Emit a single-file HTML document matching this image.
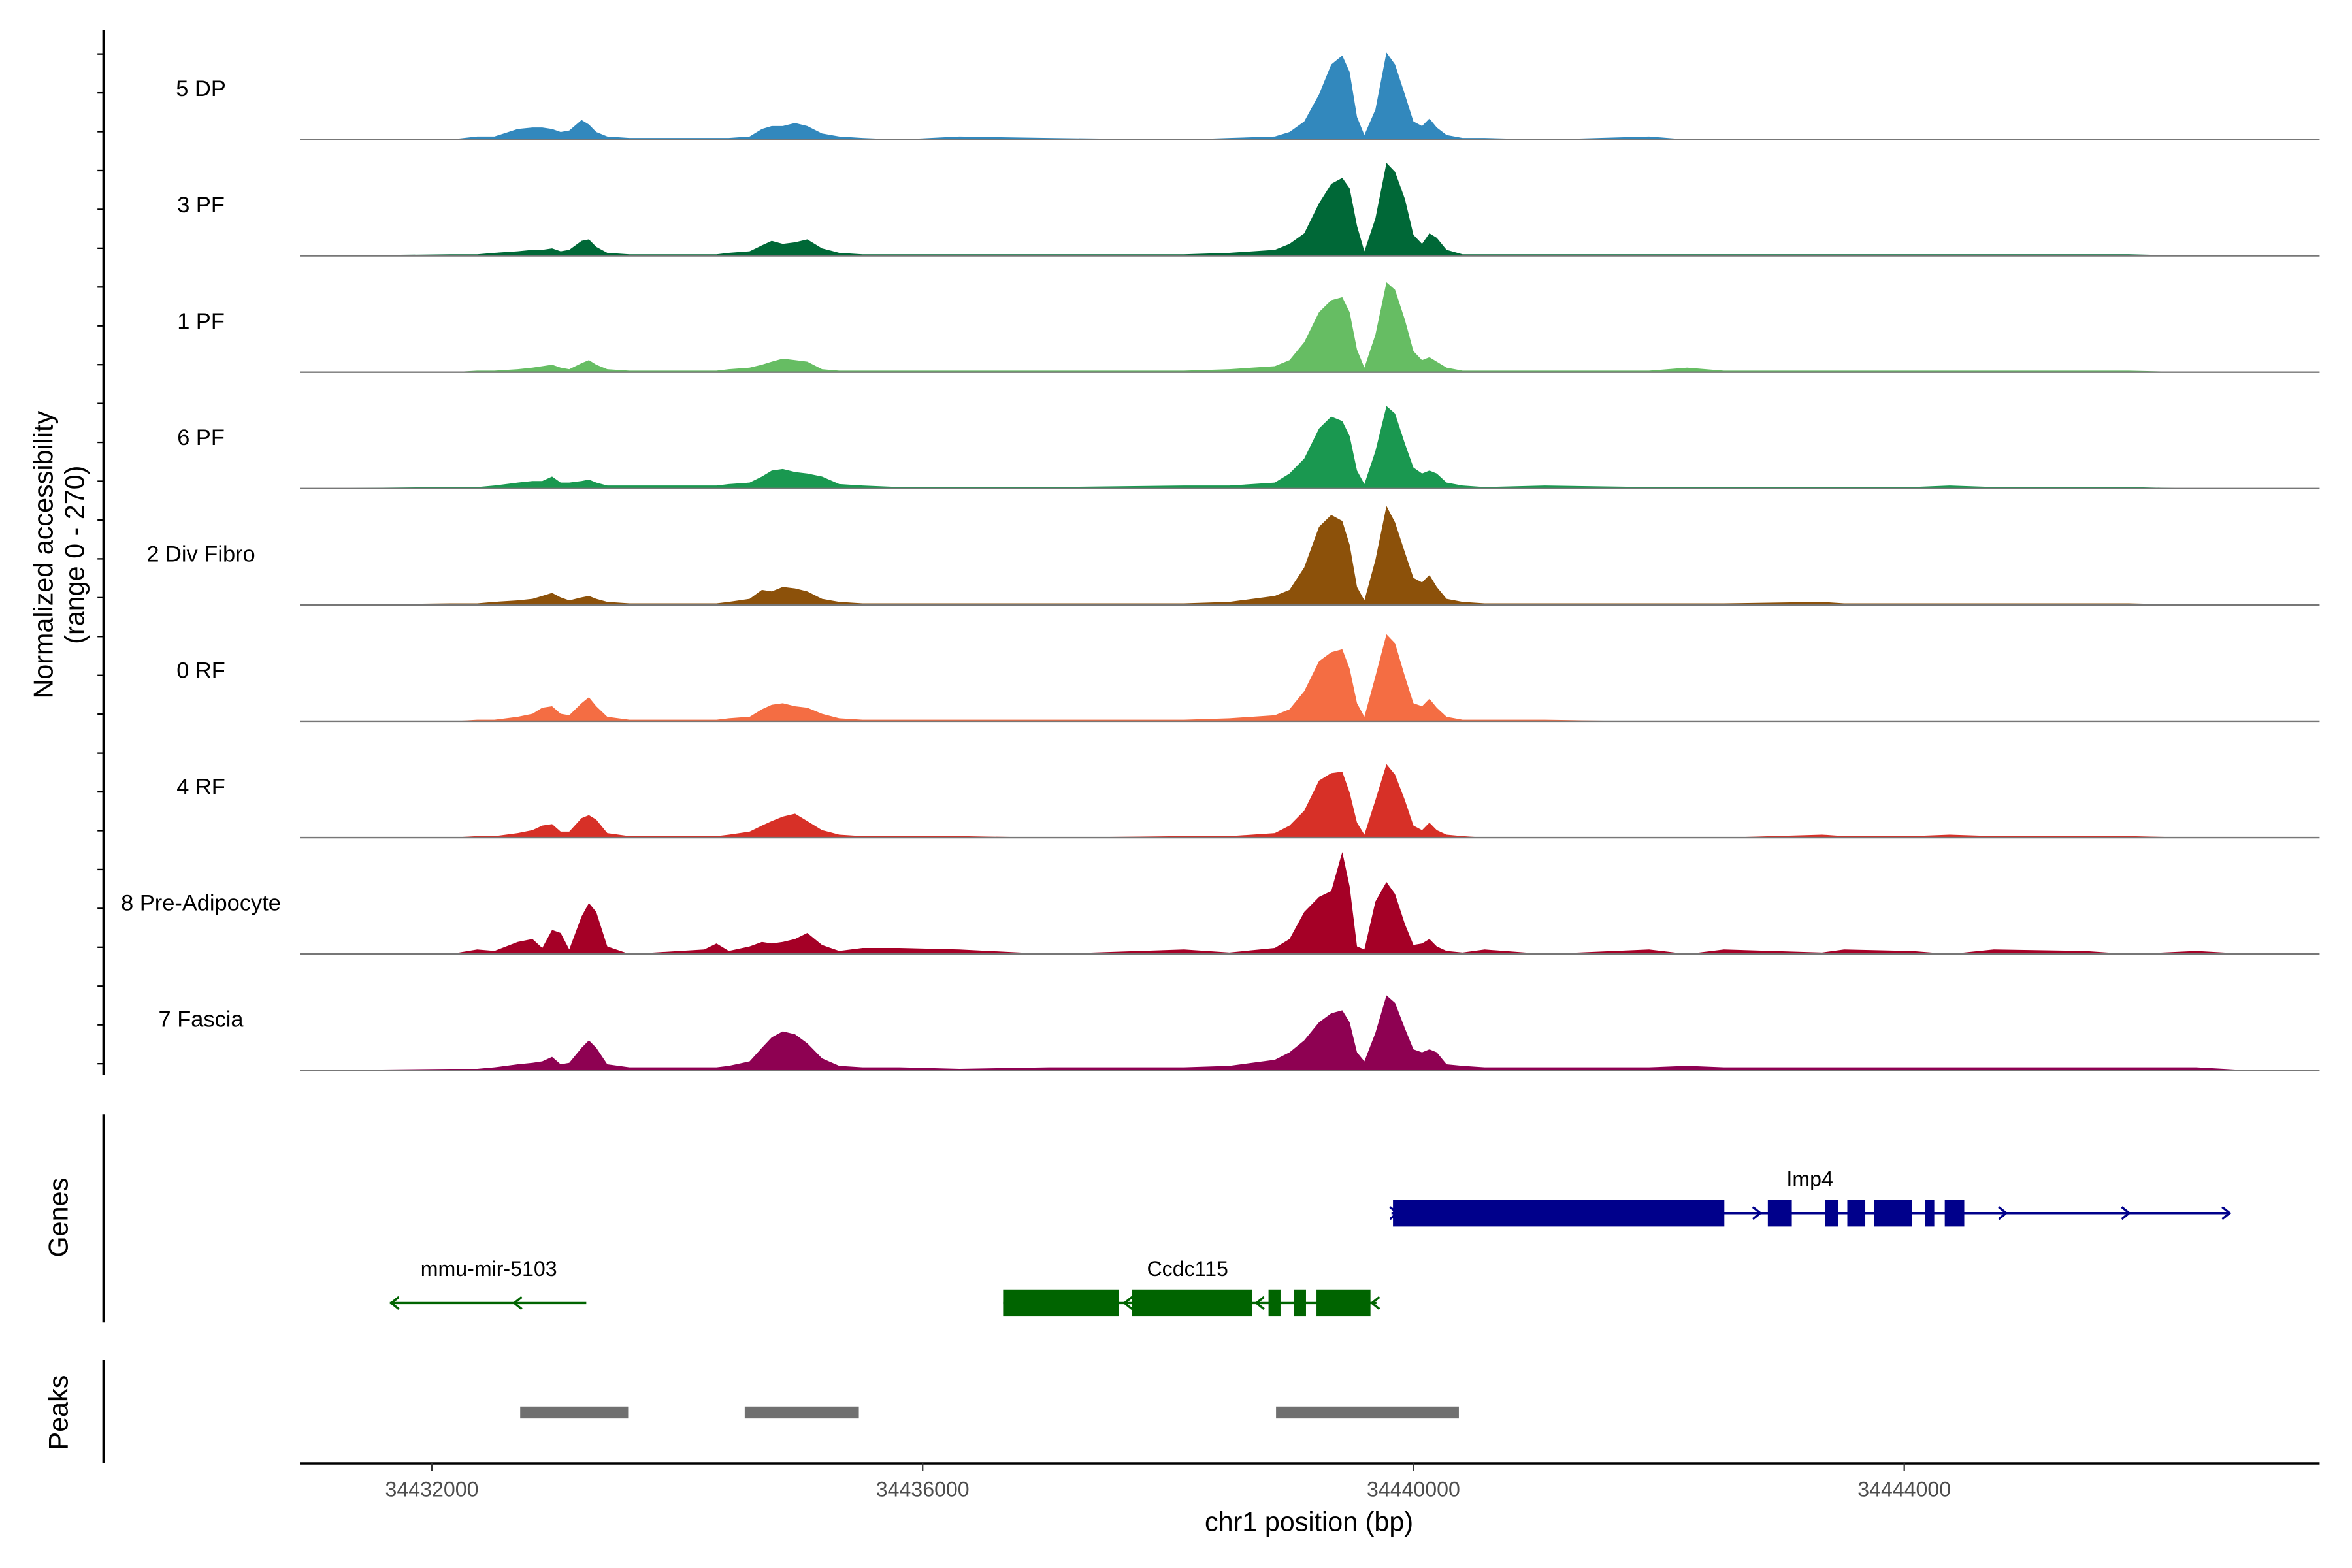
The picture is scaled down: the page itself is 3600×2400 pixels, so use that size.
<!DOCTYPE html>
<html><head><meta charset="utf-8"><style>
html,body{margin:0;padding:0;background:#fff}
svg{display:block}
text{font-family:"Liberation Sans",sans-serif}
</style></head><body>
<svg id="chart" width="3600" height="2400" viewBox="0 0 1568.6 1045.7" xmlns="http://www.w3.org/2000/svg">
<rect width="1580" height="1060" fill="#fff"/>
<g id="tracks"></g>
<g id="ytick"></g>
<text transform="translate(35,370) rotate(-90)" text-anchor="middle" font-size="18">Normalized accessibility</text>
<text transform="translate(56,370) rotate(-90)" text-anchor="middle" font-size="18">(range 0 - 270)</text>
<line x1="69" y1="743" x2="69" y2="882" stroke="#000" stroke-width="1.5"/>
<text transform="translate(45,812) rotate(-90)" text-anchor="middle" font-size="18">Genes</text>
<line x1="69" y1="907" x2="69" y2="976" stroke="#000" stroke-width="1.5"/>
<text transform="translate(45,942) rotate(-90)" text-anchor="middle" font-size="18">Peaks</text>
<g id="genes"></g>
<g id="peaks"></g>
<line x1="200" y1="976" x2="1547" y2="976" stroke="#000" stroke-width="1.5"/>
<g id="xticks"></g>
<text x="873" y="1021" text-anchor="middle" font-size="18">chr1 position (bp)</text>
</svg>
<script>
const positions=[34432150,34432370,34432510,34432700,34432820,34432900,34432980,34433050,34433120,34433220,34433280,34433340,34433430,34433610,34434220,34434320,34434420,34434590,34434690,34434770,34434860,34434960,34435060,34435180,34435320,34435510,34435810,34436300,34437030,34438130,34438500,34438870,34438990,34439110,34439230,34439330,34439420,34439480,34439540,34439600,34439690,34439780,34439850,34439930,34440000,34440070,34440130,34440190,34440270,34440400,34440580,34441070,34441920,34442230,34442530,34443330,34443510,34444060,34444370,34444730,34445470,34445830,34446380,34446810,34447300];
const trackNames=["5 DP","3 PF","1 PF","6 PF","2 Div Fibro","0 RF","4 RF","8 Pre-Adipocyte","7 Fascia"];
const trackColors=["#3288bd","#006837","#66bd63","#1a9850","#8c510a","#f46d43","#d73027","#a50026","#8e0152"];
const covDP=[0,2,2,7,8,8,7,5,6,13,10,5,2,1,1,1,1,2,7,9,9,11,9,4,2,1,0,2,1,0,1,2,5,12,30,50,56,45,15,3,20,58,50,30,12,9,14,8,3,1,1,0,2,0,0,0,0,0,0,0,0,0,0,0,0];
const cov3PF=[1,1,2,3,4,4,5,3,4,10,11,6,2,1,1,1,2,3,7,10,8,9,11,5,2,1,1,1,1,1,2,4,8,15,35,48,52,45,20,3,25,62,56,38,14,8,15,12,4,1,1,1,1,1,1,1,1,1,1,1,1,1,0,0,0];
const cov1PF=[0,1,1,2,3,4,5,3,2,6,8,5,2,1,1,1,2,3,5,7,9,8,7,2,1,1,1,1,1,1,2,4,8,20,40,48,50,40,15,3,25,60,55,35,14,8,10,7,3,1,1,1,1,3,1,1,1,1,1,1,1,1,0,0,0];
const cov6PF=[1,1,2,4,5,5,8,4,4,5,6,4,2,2,2,2,3,4,8,12,13,11,10,8,3,2,1,1,1,2,2,4,10,20,40,48,45,35,12,3,25,55,50,30,14,10,12,10,4,2,1,2,1,1,1,1,1,1,2,1,1,1,0,0,0];
const covDiv=[1,1,2,3,4,6,8,5,3,5,6,4,2,1,1,1,2,4,10,9,12,11,9,4,2,1,1,1,1,1,2,6,10,25,52,60,56,40,12,3,30,66,55,35,18,15,20,12,4,2,1,1,1,1,1,2,1,1,1,1,1,1,0,0,0];
const cov0RF=[0,1,1,3,5,9,10,5,4,12,16,10,3,1,1,1,2,3,8,11,12,10,9,5,2,1,1,1,1,1,2,4,8,20,40,46,48,35,12,3,30,58,52,30,12,10,15,9,3,1,1,1,0,0,0,0,0,0,0,0,0,0,0,0,0];
const cov4RF=[0,1,1,3,5,8,9,4,4,13,15,12,3,1,1,1,2,4,8,11,14,16,11,5,2,1,1,1,0,1,1,3,8,18,38,43,44,30,10,2,25,49,42,25,8,5,10,5,2,1,0,0,0,0,0,2,1,1,2,1,1,1,0,0,0];
const covPre=[0,3,2,8,10,4,16,14,3,25,34,28,5,0,3,7,2,5,8,7,8,10,14,6,2,4,4,3,0,3,1,4,10,28,38,42,68,45,5,3,35,48,40,20,6,7,10,5,2,1,3,0,3,0,3,1,3,2,0,3,2,0,2,0,0];
const covFas=[1,1,2,4,5,6,9,4,5,15,20,15,4,2,2,2,3,6,15,22,26,24,18,8,3,2,2,1,2,2,3,7,12,20,32,38,40,32,12,6,25,50,45,28,14,12,14,12,4,3,2,2,2,3,2,2,2,2,2,2,2,2,2,0,0];
const coverage=[covDP,cov3PF,cov1PF,cov6PF,covDiv,cov0RF,cov4RF,covPre,covFas];
const xTicks=[34432000,34436000,34440000,34444000];
const peakStarts=[34432720,34434550,34438880];
const peakEnds=[34433600,34435480,34440370];

const NS="http://www.w3.org/2000/svg";
const X0=200,X1=1547,BP0=34432000-88/0.081833,BP1=34432000+1259/0.081833;
function xs(bp){return X0+(bp-BP0)/(BP1-BP0)*(X1-X0);}
const base0=93,step=77.6,hUnit=1;
function ys(v,i){return base0+i*step-v*hUnit;}
function mk(tag,attrs,parent){const e=document.createElementNS(NS,tag);for(const k in attrs)e.setAttribute(k,attrs[k]);parent.appendChild(e);return e;}
const tg=document.getElementById('tracks');
coverage.forEach((vals,i)=>{
  const b=base0+i*step;
  let d=`M${X0},${b}`;
  vals.forEach((v,j)=>{d+=`L${xs(positions[j]).toFixed(2)},${ys(v,i).toFixed(2)}`;});
  d+=`L${X1},${b}Z`;
  const p=mk('path',{d:d,fill:trackColors[i]},tg);
  
  
  const l=mk('line',{x1:X0,x2:X1,y1:b,y2:b,stroke:'#777','stroke-width':1},tg);
  
  
  const t=mk('text',{x:134,y:b-29,'text-anchor':'middle','font-size':15},tg);
  t.textContent=trackNames[i];
  
  
});
const yg=document.getElementById('ytick');
mk('line',{x1:69,y1:20,x2:69,y2:717,stroke:'#000','stroke-width':1.5},yg);
for(let y=36;y<717;y+=25.9){mk('line',{x1:65,y1:y,x2:69,y2:y,stroke:'#000','stroke-width':1},yg);}
const xg=document.getElementById('xticks');
xTicks.forEach(t=>{
  const x=xs(t);
  mk('line',{x1:x,x2:x,y1:976,y2:981,stroke:'#333','stroke-width':1},xg);
  const tx=mk('text',{x:x,y:998,'text-anchor':'middle','font-size':14,fill:'#4d4d4d'},xg);
  tx.textContent=t;
  
  
});
const pg=document.getElementById('peaks');
peakStarts.forEach((s,i)=>{
  const r=mk('rect',{x:xs(s),y:938,width:xs(peakEnds[i])-xs(s),height:8,fill:'#707070'},pg);
  
  
});
const gg=document.getElementById('genes');
function arrow(x,y,dir,col){const dx=dir>0?-5:5;mk('path',{d:`M${x+dx},${y-4}L${x},${y}L${x+dx},${y+4}`,fill:'none',stroke:col,'stroke-width':1.5},gg);}
const nv='#00008b';
mk('line',{x1:928,y1:809,x2:1487,y2:809,stroke:nv,'stroke-width':1.5},gg);
[[929,1150],[1179,1195],[1217,1226],[1232,1244],[1250,1275],[1284,1290],[1297,1310]].forEach(e=>mk('rect',{x:e[0],y:800,width:e[1]-e[0],height:18,fill:nv},gg));
[932,1174,1338,1420,1487].forEach(x=>arrow(x,809,1,nv));
const lt=mk('text',{x:1207,y:791,'text-anchor':'middle','font-size':14},gg);lt.textContent='Imp4';


const gr='#006400';
mk('line',{x1:669,y1:869,x2:918,y2:869,stroke:gr,'stroke-width':1.5},gg);
[[669,746],[755,835],[846,854],[863,871],[878,914]].forEach(e=>mk('rect',{x:e[0],y:860,width:e[1]-e[0],height:18,fill:gr},gg));
[750,838,915].forEach(x=>arrow(x,869,-1,gr));
const lc=mk('text',{x:792,y:851,'text-anchor':'middle','font-size':14},gg);lc.textContent='Ccdc115';


mk('line',{x1:260,y1:869,x2:391,y2:869,stroke:gr,'stroke-width':1.5},gg);
[261,343].forEach(x=>arrow(x,869,-1,gr));
const lm=mk('text',{x:326,y:851,'text-anchor':'middle','font-size':14},gg);lm.textContent='mmu-mir-5103';


</script>
</body></html>
